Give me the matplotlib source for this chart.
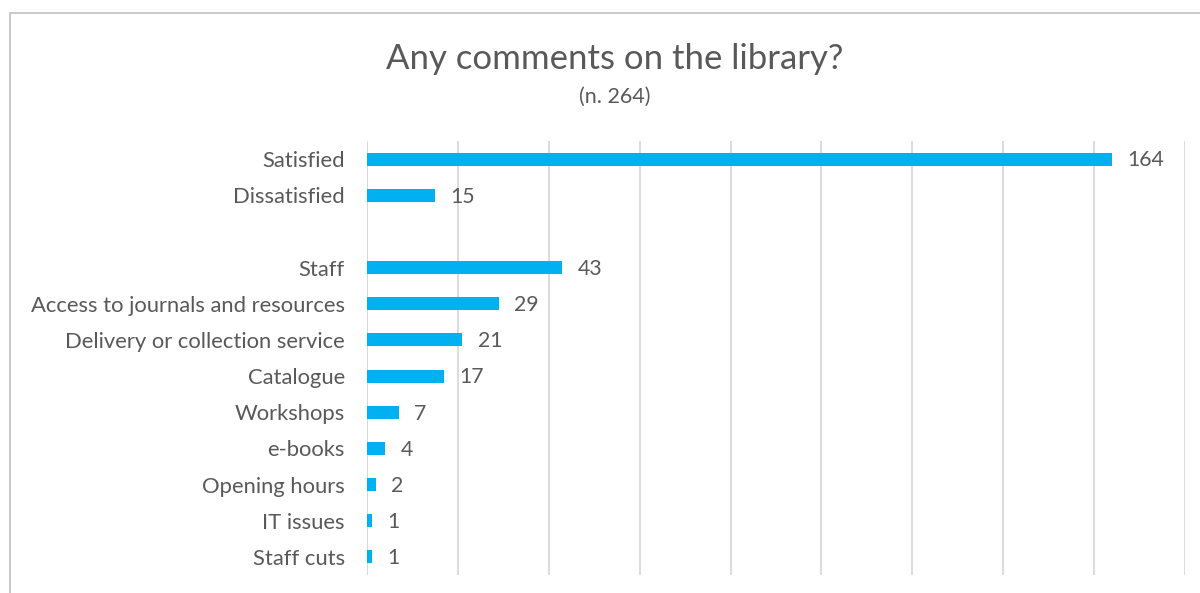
import matplotlib.pyplot as plt
from matplotlib.patches import Rectangle

categories = ['Satisfied', 'Dissatisfied', 'Staff', 'Access to journals and resources',
              'Delivery or collection service', 'Catalogue', 'Workshops', 'e-books',
              'Opening hours', 'IT issues', 'Staff cuts']
values = [164, 15, 43, 29, 21, 17, 7, 4, 2, 1, 1]
gap_after = 2  # empty row between the satisfaction group and the topics

plt.rcParams['font.family'] = ['Lato', 'DejaVu Sans']
text_color = '#595959'

fig = plt.figure(figsize=(12, 5.93), dpi=100)
fig.patches.append(Rectangle((10 / 1200, -0.1), 1.2, 1 - 13 / 593 + 0.1,
                             transform=fig.transFigure, fill=False,
                             edgecolor='#bfbfbf', linewidth=1.2))

ax = fig.add_axes([367 / 1200, 1 - 575 / 593, (1185 - 367) / 1200, (575 - 141) / 593])

pos = [i if i < gap_after else i + 1 for i in range(len(categories))]
ax.barh(pos, values, height=0.36, color='#00B0F0')
ax.set_yticks(pos)
ax.set_yticklabels(categories, fontsize=15.8, color=text_color)
ax.set_ylim(len(categories) + 0.5, -0.5)
ax.set_xlim(0, 180)
ax.set_xticks(range(0, 181, 20))
ax.xaxis.grid(True, color='#d9d9d9', linewidth=1.3)
ax.set_axisbelow(True)
ax.tick_params(axis='x', bottom=False, labelbottom=False)
ax.tick_params(axis='y', length=0, pad=16)
for s in ax.spines.values():
    s.set_visible(False)
ax.axvline(0, color='#d9d9d9', linewidth=1.3, zorder=0)

for p, v in zip(pos, values):
    ax.annotate(str(v), (v, p), xytext=(11, -1), textcoords='offset points',
                va='center', ha='left', fontsize=15.3, color=text_color)

fig.text(0.512, 1 - 59 / 593, 'Any comments on the library?', ha='center', va='center',
         fontsize=25, color=text_color)
fig.text(0.512, 1 - 97 / 593, '(n. 264)', ha='center', va='center',
         fontsize=15.5, color=text_color)

fig.savefig('out.png', dpi=100)
